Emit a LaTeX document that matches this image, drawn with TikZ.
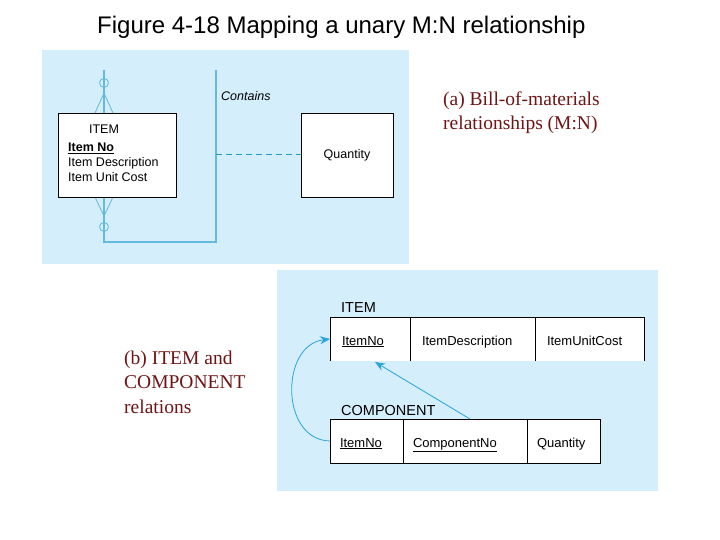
\documentclass[tikz,border=0pt]{standalone}
\usepackage{fontspec}
\setmainfont{Liberation Serif}
\setsansfont{Liberation Sans}
\usetikzlibrary{arrows.meta}

\definecolor{panelblue}{RGB}{212,238,251}
\definecolor{erline}{RGB}{100,185,220}
\definecolor{fkarrow}{RGB}{40,165,220}
\definecolor{labelred}{RGB}{110,20,20}

\newcommand\titlefont{\sffamily\fontsize{24bp}{28bp}\selectfont}
\newcommand\erfont{\sffamily\fontsize{12.5bp}{15bp}\selectfont}
\newcommand\tabfont{\sffamily\fontsize{13bp}{15bp}\selectfont}
\newcommand\headfont{\sffamily\fontsize{14.5bp}{17bp}\selectfont}
\newcommand\capfont{\rmfamily\fontsize{19.5bp}{24.5bp}\selectfont}

\tikzset{
  panel/.style={fill=panelblue, draw=none},
  entity/.style={draw=black, fill=white, line width=0.8bp, inner sep=0pt},
  erlink/.style={draw=erline, line width=1.4bp},
  crow/.style={draw=erline, line width=0.8bp},
  cell/.style={anchor=north west, fill=white, minimum height=44bp, outer sep=0pt,
    inner ysep=0pt, align=left, font=\tabfont, text width=#1,
    text height=12bp, text depth=0pt},
  fk/.style={draw=fkarrow, line width=0.8bp, -{Stealth[length=10bp,width=8bp]}},
  caption/.style={anchor=base west, text=labelred, font=\capfont, align=left, inner sep=0pt}
}

\begin{document}
\begin{tikzpicture}[x=1bp,y=-1bp]
\useasboundingbox (0,0) rectangle (720,540);
\node[anchor=base west, inner sep=0pt, font=\titlefont] (title) at (97,34) {Figure 4-18 Mapping a unary M:N relationship};

% (a) E-R diagram
\fill[panel] (42,50) rectangle (409,264);
\coordinate (relL) at (104,70);
\coordinate (relLB) at (104,242);
\coordinate (relRB) at (216,242);
\coordinate (relR) at (216,70);
\draw[erlink] (relL) -- (relLB) -- (relRB) -- (relR);
\draw[crow] (95,113) -- (104,93) -- (113,113);
\draw[crow] (104,83) circle (4.5);
\draw[crow] (95,197) -- (104,216) -- (113,197);
\draw[crow] (104,227) circle (4.5);
\node[entity, minimum width=118bp, minimum height=84bp] (itemEnt) at (117,155) {};
\node[anchor=base, inner sep=0pt, font=\erfont] (itemName) at (104,134) {ITEM};
\node[anchor=base west, inner sep=0pt, font=\erfont\bfseries] (itemNoA) at (68,152) {\underline{Item No}};
\node[anchor=base west, inner sep=0pt, font=\erfont] (itemDescA) at (68,167) {Item Description};
\node[anchor=base west, inner sep=0pt, font=\erfont] (itemCostA) at (68,182) {Item Unit Cost};
\node[entity, minimum width=92bp, minimum height=84bp, font=\erfont] (qty) at (347,155) {Quantity};
\node[anchor=base west, inner sep=0pt, font=\erfont\itshape] (contains) at (221,101) {Contains};
\draw[draw=fkarrow!80!teal, line width=1bp, dash pattern=on 6bp off 4bp] (relR |- qty.west) -- (qty.west);
\node[caption] (capA) at (443,130) {(a) Bill-of-materials\\relationships (M:N)};

% (b) relations
\fill[panel] (277,270) rectangle (658,491);
\node[anchor=base west, inner sep=0pt, font=\headfont] (itemHead) at (341,312) {ITEM};
\node[cell=56bp, inner xsep=12bp] (itemNo) at (330,317) {\underline{ItemNo}};
\node[cell=101bp, inner xsep=12bp] (itemDesc) at (itemNo.north east) {ItemDescription};
\node[cell=85bp, inner xsep=12bp] (itemCost) at (itemDesc.north east) {ItemUnitCost};
\draw[line width=0.8bp] (itemNo.south west) |- (itemCost.north east) -- (itemCost.south east);
\draw[line width=0.8bp] (itemDesc.north west) -- (itemDesc.south west);
\draw[line width=0.8bp] (itemCost.north west) -- (itemCost.south west);

\node[anchor=base west, inner sep=0pt, font=\headfont] (compHead) at (341,415) {COMPONENT};
\node[cell=53bp, inner xsep=10bp, draw=black, line width=0.8bp] (compItem) at (330,419) {\underline{ItemNo}};
\node[cell=104bp, inner xsep=10bp, draw=black, line width=0.8bp] (compNo) at (compItem.north east) {\underline{ComponentNo}};
\node[cell=53bp, inner xsep=10bp, draw=black, line width=0.8bp] (compQty) at (compNo.north east) {Quantity};

\draw[fk] (compItem.west) .. controls (280,440) and (280,345) .. (itemNo.west);
\draw[fk] (compNo.north west) ++(67,0) coordinate (fkStart) -- (375,362);
\node[caption] (capB) at (124,413) {(b) ITEM and\\COMPONENT\\relations};
\end{tikzpicture}
\end{document}
